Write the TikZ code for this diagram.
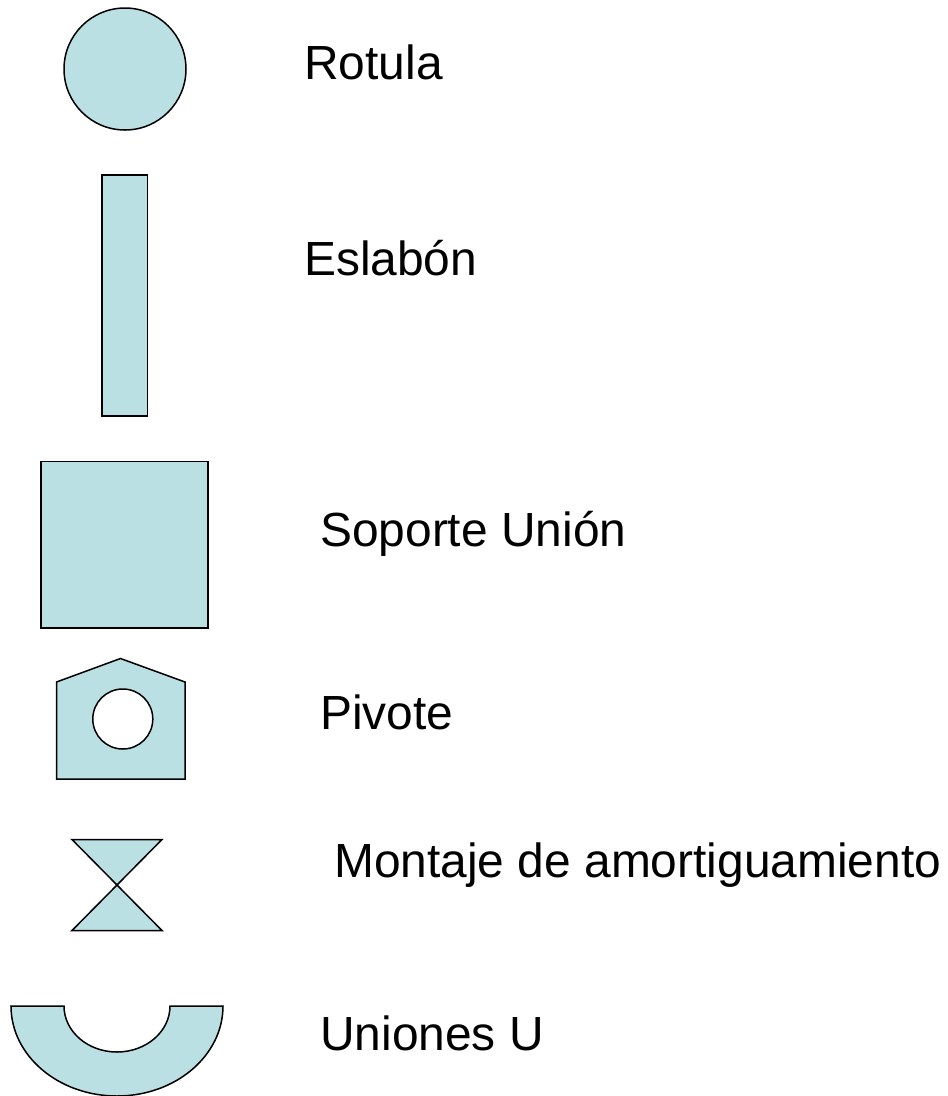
\documentclass[tikz,border=0pt]{standalone}
\usepackage{fontspec}
\setmainfont{Liberation Sans}
\definecolor{pieza}{RGB}{187,224,227}
\tikzset{pieza/.style={draw=black, fill=pieza, line width=1.5pt},
         etiqueta/.style={anchor=base west, font=\fontsize{47.9}{56}\selectfont, inner sep=0pt}}
\begin{document}
\begin{tikzpicture}[x=1pt, y=-1pt]
    \useasboundingbox (0,0) rectangle (948,1096);
    % Rotula
    \draw[pieza] (125,69) circle (61);
    \node[etiqueta] (rotula) at (304,79) {Rotula};
    % Eslabon
    \draw[pieza] (102,175) rectangle (147.5,416);
    \node[etiqueta] (eslabon) at (304,275) {Eslabón};
    % Soporte
    \draw[pieza] (41,461.5) rectangle (208,628);
    \node[etiqueta] (soporte) at (320,546) {Soporte Unión};
    % Pivote
    \draw[pieza] (56.5,682) -- (120.5,658.5) -- (185,682) -- (185,779) -- (56.5,779) -- cycle;
    \draw[draw=black, fill=white, line width=1.5pt] (122.8,719) circle (30);
    \node[etiqueta] (pivote) at (320,729) {Pivote};
    % Montaje
    \draw[pieza] (72,839.5) -- (162,839.5) -- (72,930.5) -- (162,930.5) -- cycle;
    \node[etiqueta] (montaje) at (334,877) {Montaje de amortiguamiento};
    % Uniones U
    \draw[pieza] (11,1006) -- (64,1006) arc[start angle=180, end angle=0, x radius=53, y radius=46] -- (223,1006) arc[start angle=0, end angle=180, x radius=106, y radius=90] -- cycle;
    \node[etiqueta] (uniones) at (320,1050) {Uniones U};
\end{tikzpicture}
\end{document}
